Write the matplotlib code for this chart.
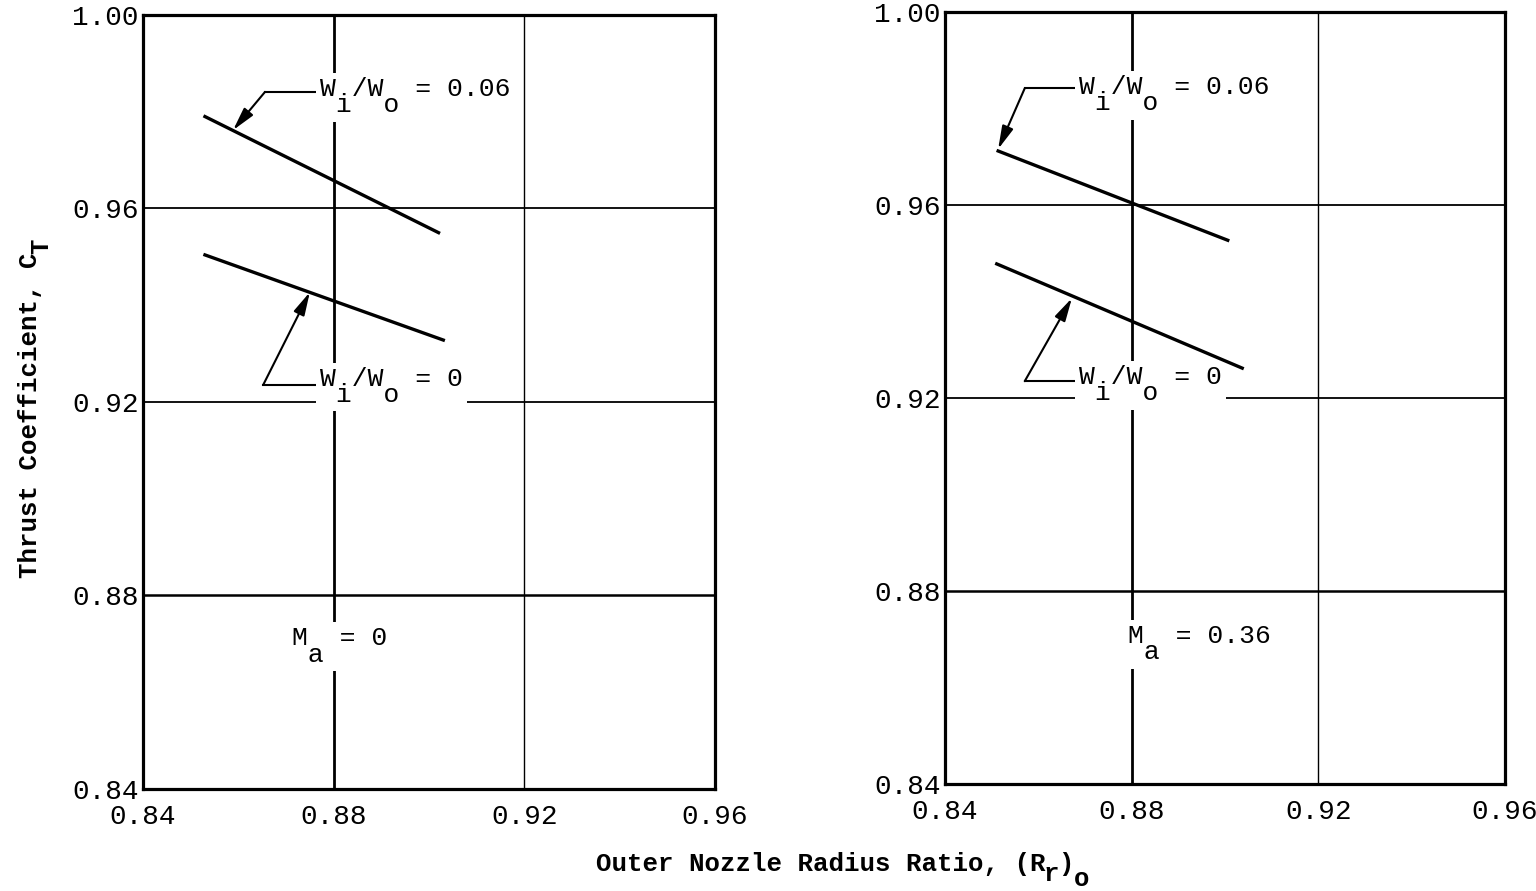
import matplotlib.pyplot as plt

plt.rcParams['font.family'] = ['Liberation Mono', 'DejaVu Sans Mono']

# data
x_ticks = [0.84, 0.88, 0.92, 0.96]
y_ticks = [0.84, 0.88, 0.92, 0.96, 1.00]
tick_labels_x = ['0.84', '0.88', '0.92', '0.96']
tick_labels_y = ['0.84', '0.88', '0.92', '0.96', '1.00']

# panel Ma = 0
left_x_006 = [0.853, 0.902]
left_y_006 = [0.979, 0.955]
left_x_0 = [0.853, 0.903]
left_y_0 = [0.9504, 0.9328]

# panel Ma = 0.36
right_x_006 = [0.8514, 0.9006]
right_y_006 = [0.9712, 0.9527]
right_x_0 = [0.8511, 0.9037]
right_y_0 = [0.9478, 0.9262]

mach = ['0', '0.36']
ratio = ['0.06', '0']

fig = plt.figure(figsize=(15.36, 8.91), dpi=100)
ax1 = fig.add_axes([0.0931, 0.1145, 0.3724, 0.8687])
ax2 = fig.add_axes([0.6152, 0.1200, 0.3646, 0.8665])

FS = 19
box = dict(facecolor='white', edgecolor='none', pad=3)


def sub_text(ax, x, y, main, sub):
    # typewriter style: subscripts are full size, on a dropped second line
    # (y is the main baseline; multiline 'baseline' anchors the last line)
    ax.annotate(main + '\n' + sub, (x, y), xytext=(0, -11), textcoords='offset points',
                fontsize=FS, ha='left', va='baseline', linespacing=0.6,
                bbox=box, zorder=4)


def setup(ax):
    ax.set_xlim(0.84, 0.96)
    ax.set_ylim(0.84, 1.00)
    ax.set_xticks(x_ticks)
    ax.set_xticklabels(tick_labels_x, fontsize=20)
    ax.set_yticks(y_ticks)
    ax.set_yticklabels(tick_labels_y, fontsize=20)
    ax.tick_params(axis='x', length=0, pad=11)
    ax.tick_params(axis='y', length=0, pad=3)
    for s in ax.spines.values():
        s.set_linewidth(2.3)
    # drafted grid: 0.88 heavier
    for v, w in zip(x_ticks[1:3], [2.0, 1.0]):
        ax.axvline(v, color='black', lw=w, zorder=1)
    for v, w in zip(y_ticks[1:4], [1.8, 1.3, 1.3]):
        ax.axhline(v, color='black', lw=w, zorder=1)


def leader(ax, value, txy, elbow, tip):
    sub_text(ax, txy[0], txy[1], 'W /W  = ' + value, ' i  o')
    ax.plot([elbow[0], txy[0]], [elbow[1], elbow[1]], color='black', lw=1.5, zorder=3)
    ax.annotate('', xy=tip, xytext=elbow,
                arrowprops=dict(arrowstyle='-|>,head_length=1.4,head_width=0.35',
                                color='black', lw=1.5, shrinkA=0, shrinkB=0),
                zorder=3)


setup(ax1)
ax1.plot(left_x_006, left_y_006, color='black', lw=2.4, zorder=5)
ax1.plot(left_x_0, left_y_0, color='black', lw=2.4, zorder=5)
leader(ax1, ratio[0], (0.8772, 0.9830), (0.8656, 0.9841), (0.8589, 0.9762))
leader(ax1, ratio[1], (0.8772, 0.9231), (0.8652, 0.9235), (0.8750, 0.9427))
sub_text(ax1, 0.8713, 0.8695, 'M  = ' + mach[0], ' a')

setup(ax2)
ax2.plot(right_x_006, right_y_006, color='black', lw=2.4, zorder=5)
ax2.plot(right_x_0, right_y_0, color='black', lw=2.4, zorder=5)
leader(ax2, ratio[0], (0.8687, 0.9828), (0.8571, 0.9842), (0.8514, 0.9716))
leader(ax2, ratio[1], (0.8687, 0.9227), (0.8571, 0.9235), (0.8672, 0.9407))
sub_text(ax2, 0.8792, 0.8690, 'M  = ' + mach[1], ' a')

# axis titles, typewriter style with dropped subscripts
LFS = 18.5
adv = 0.6 * LFS / 72 * 100  # monospace advance in pixels
x0, base = 596, 871
fig.text(x0 / 1536, 1 - base / 891, 'Outer Nozzle Radius Ratio, (R', fontsize=LFS,
         fontweight='bold', ha='left', va='baseline')
fig.text((x0 + 29 * adv) / 1536, 1 - (base + 10) / 891, 'r', fontsize=LFS,
         fontweight='bold', ha='left', va='baseline')
fig.text((x0 + 30 * adv) / 1536, 1 - base / 891, ')', fontsize=LFS,
         fontweight='bold', ha='left', va='baseline')
fig.text((x0 + 31 * adv) / 1536, 1 - (base + 15) / 891, 'o', fontsize=LFS,
         fontweight='bold', ha='left', va='baseline')

y0 = 578
fig.text(37 / 1536, 1 - y0 / 891, 'Thrust Coefficient, C', fontsize=LFS,
         fontweight='bold', rotation=90, rotation_mode='anchor',
         ha='left', va='baseline')
fig.text(48 / 1536, 1 - (y0 - 21 * adv) / 891, 'T', fontsize=LFS,
         fontweight='bold', rotation=90, rotation_mode='anchor',
         ha='left', va='baseline')

fig.savefig('out.png', dpi=100)
